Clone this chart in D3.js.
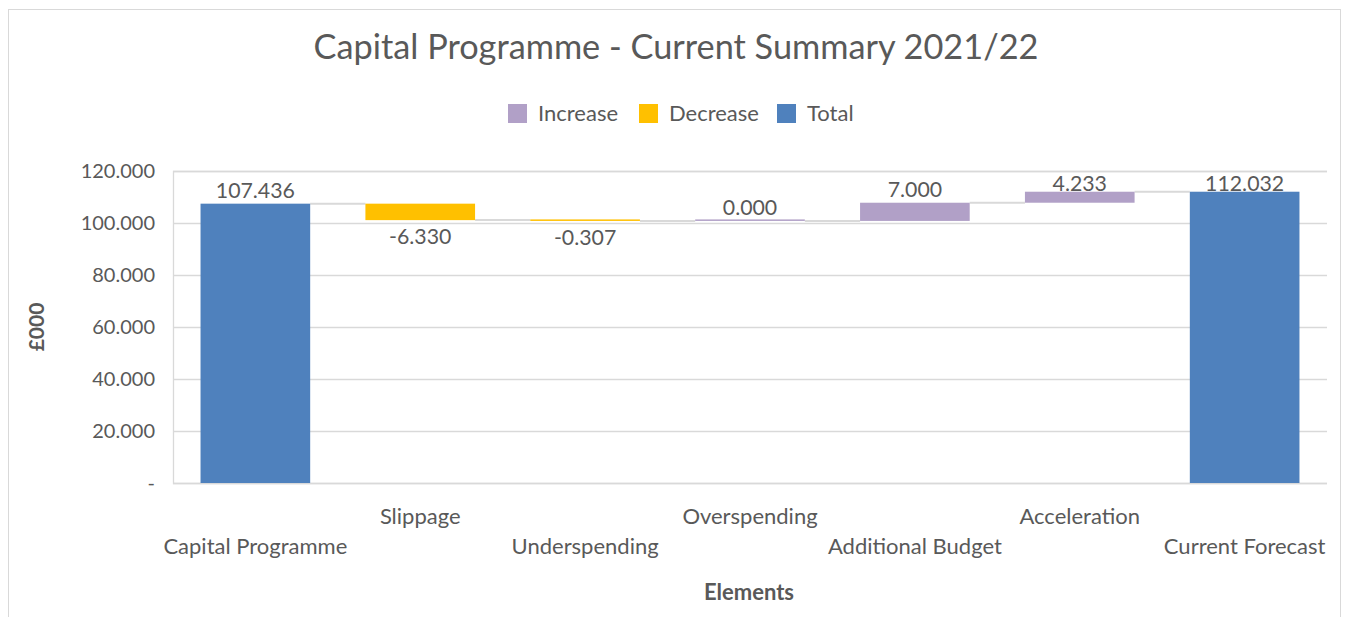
<!DOCTYPE html>
<html>
<head>
<meta charset="utf-8">
<script src="https://cdn.jsdelivr.net/npm/d3@7"></script>
<style>
  html, body { margin: 0; padding: 0; background: #fff; }
  svg { display: block; font-family: Lato, "Open Sans", sans-serif; }
</style>
</head>
<body>
<svg id="chart" width="1348" height="617"></svg>
<script>
// Waterfall of the 2021/22 capital programme (£000)
const categories = ["Capital Programme", "Slippage", "Underspending", "Overspending",
                    "Additional Budget", "Acceleration", "Current Forecast"];
const values = [107.436, -6.330, -0.307, 0.000, 7.000, 4.233, 112.032];
const kinds = ["Total", "Decrease", "Decrease", "Increase", "Increase", "Increase", "Total"];
const yTicks = [0, 20, 40, 60, 80, 100, 120];
const legendKeys = ["Increase", "Decrease", "Total"];

const colors = { Increase: "#B1A0C7", Decrease: "#FFC000", Total: "#4F81BD" };
const textColor = "#595959";
const gridColor = "#D9D9D9";

// plain hyphen for negatives
const fmt = d3.formatLocale({ decimal: ".", thousands: ",", grouping: [3],
                              currency: ["£", ""], minus: "-" }).format(".3f");

const svg = d3.select("#chart");
const plot = { left: 173, right: 1327, top: 171, bottom: 483 };

// outer chart frame
svg.append("rect")
  .attr("x", 8.5).attr("y", 9.5)
  .attr("width", 1332).attr("height", 640)
  .attr("fill", "#fff").attr("stroke", gridColor).attr("stroke-width", 1);

// running totals → floating segments
let run = 0;
const bars = values.map((v, i) => {
  let lo, hi;
  if (kinds[i] === "Total") {
    lo = 0; hi = v; run = v;
  } else {
    const start = run;
    run = run + v;
    lo = Math.min(start, run); hi = Math.max(start, run);
  }
  return { name: categories[i], value: v, kind: kinds[i], lo, hi, level: run };
});

const x = d3.scaleBand().domain(categories)
  .range([plot.left, plot.right]).paddingInner(0.335).paddingOuter(0.167);
const y = d3.scaleLinear().domain([0, 120]).range([plot.bottom, plot.top]);

// grid lines and value axis
const yAxis = d3.axisLeft(y).tickValues(yTicks)
  .tickSize(-(plot.right - plot.left)).tickPadding(18)
  .tickFormat(d => d === 0 ? "-" : fmt(d));
const gy = svg.append("g").attr("transform", `translate(${plot.left},0)`).call(yAxis);
gy.select(".domain").attr("stroke", gridColor).attr("stroke-width", 1.3);
gy.selectAll(".tick line").attr("stroke", gridColor).attr("stroke-width", 1.3);
gy.selectAll(".tick text").attr("fill", textColor).attr("font-size", 20)
  .attr("font-family", "Lato, sans-serif");

// connectors between consecutive bars at the running level
const connectors = bars.slice(0, -1).map((b, i) => ({ from: b, to: bars[i + 1] }));
svg.append("g").selectAll("line").data(connectors).join("line")
  .attr("x1", d => x(d.from.name) + x.bandwidth())
  .attr("x2", d => x(d.to.name))
  .attr("y1", d => y(d.from.level))
  .attr("y2", d => y(d.from.level))
  .attr("stroke", gridColor).attr("stroke-width", 2);

// bars
svg.append("g").selectAll("rect").data(bars).join("rect")
  .attr("x", d => x(d.name))
  .attr("width", x.bandwidth())
  .attr("y", d => Math.min(y(d.hi), y(d.lo) - 1.5))
  .attr("height", d => Math.max(y(d.lo) - y(d.hi), 1.5))
  .attr("fill", d => colors[d.kind]);

// value labels, kept inside the plot area
const labelSize = 21.3;
svg.append("g").selectAll("text").data(bars).join("text")
  .attr("x", d => x(d.name) + x.bandwidth() / 2)
  .attr("y", d => d.kind === "Decrease"
      ? y(d.lo) + 24
      : Math.max(y(d.hi) - 6, plot.top + labelSize - 1))
  .attr("text-anchor", "middle")
  .attr("fill", textColor).attr("font-size", labelSize)
  .text(d => fmt(d.value));

// category labels, staggered on two rows
svg.append("g").selectAll("text").data(categories).join("text")
  .attr("x", d => x(d) + x.bandwidth() / 2)
  .attr("y", (d, i) => i % 2 === 0 ? 554 : 524)
  .attr("text-anchor", "middle")
  .attr("fill", textColor).attr("font-size", 22)
  .text(d => d);

// title
svg.append("text")
  .attr("x", 676).attr("y", 59).attr("text-anchor", "middle")
  .attr("fill", textColor).attr("font-size", 34.3)
  .text("Capital Programme - Current Summary 2021/22");

// axis titles
svg.append("text")
  .attr("x", 749).attr("y", 600).attr("text-anchor", "middle")
  .attr("fill", textColor).attr("font-size", 22).attr("font-weight", "bold")
  .text("Elements");
svg.append("text")
  .attr("transform", "translate(44,327) rotate(-90)").attr("text-anchor", "middle")
  .attr("fill", textColor).attr("font-size", 21).attr("font-weight", "bold")
  .text("£000");

// legend
const legendX = [508, 639, 777];
const lg = svg.append("g").selectAll("g").data(legendKeys).join("g")
  .attr("transform", (d, i) => `translate(${legendX[i]},104)`);
lg.append("rect").attr("width", 19).attr("height", 19).attr("fill", d => colors[d]);
lg.append("text").attr("x", 30).attr("y", 17)
  .attr("fill", textColor).attr("font-size", 22).text(d => d);
</script>
</body>
</html>
